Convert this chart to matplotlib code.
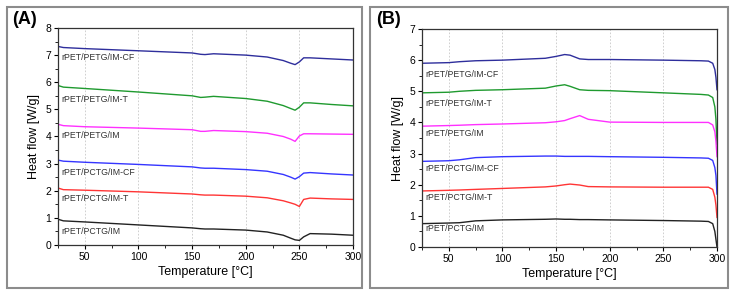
import matplotlib.pyplot as plt
from matplotlib.patches import Rectangle

plt.rcParams['font.family'] = ['Liberation Sans', 'DejaVu Sans']

names_a = ["rPET/PETG/IM-CF", "rPET/PETG/IM-T", "rPET/PETG/IM",
           "rPET/PCTG/IM-CF", "rPET/PCTG/IM-T", "rPET/PCTG/IM"]
colors = ["#2e2e9c", "#1f9a2f", "#ff30ff", "#3535ff", "#ff3535", "#222222"]

# panel A: heating curves
temp_a = [25, 30, 50, 100, 150, 158, 162, 170, 200, 220, 235, 242, 246, 250, 254, 260, 280, 300]
cf_a = [7.32, 7.28, 7.24, 7.16, 7.08, 7.03, 7.02, 7.05, 7.00, 6.93, 6.80, 6.70, 6.65, 6.75, 6.90, 6.90, 6.86, 6.82]
t_a = [5.88, 5.82, 5.77, 5.64, 5.50, 5.44, 5.45, 5.48, 5.40, 5.30, 5.14, 5.03, 4.97, 5.08, 5.24, 5.24, 5.18, 5.13]
im_a = [4.45, 4.40, 4.36, 4.31, 4.25, 4.19, 4.19, 4.22, 4.18, 4.12, 4.00, 3.90, 3.82, 4.02, 4.10, 4.10, 4.09, 4.08]
pcf_a = [3.13, 3.09, 3.05, 2.97, 2.88, 2.84, 2.83, 2.83, 2.78, 2.72, 2.60, 2.50, 2.43, 2.52, 2.65, 2.67, 2.62, 2.58]
pt_a = [2.10, 2.04, 2.02, 1.96, 1.88, 1.85, 1.84, 1.84, 1.80, 1.74, 1.63, 1.55, 1.50, 1.42, 1.68, 1.73, 1.70, 1.68]
pim_a = [0.95, 0.89, 0.85, 0.74, 0.63, 0.60, 0.59, 0.59, 0.55, 0.48, 0.36, 0.25, 0.19, 0.17, 0.30, 0.42, 0.40, 0.36]

# panel B: cooling curves
temp_b = [25, 50, 60, 75, 100, 140, 150, 158, 163, 172, 180, 200, 250, 285, 292, 296, 298, 299, 300]
cf_b = [5.90, 5.92, 5.95, 5.98, 6.00, 6.06, 6.12, 6.18, 6.16, 6.04, 6.02, 6.02, 6.00, 5.98, 5.97, 5.90, 5.70, 5.45, 5.05]
t_b = [4.95, 4.97, 5.00, 5.03, 5.05, 5.10, 5.17, 5.21, 5.16, 5.05, 5.03, 5.02, 4.95, 4.90, 4.88, 4.80, 4.50, 4.10, 3.30]
im_b = [3.88, 3.90, 3.91, 3.93, 3.95, 3.99, 4.02, 4.06, 4.12, 4.22, 4.10, 4.01, 4.00, 4.00, 4.00, 3.92, 3.70, 3.40, 2.90]
pcf_b = [2.75, 2.77, 2.80, 2.87, 2.90, 2.92, 2.92, 2.91, 2.91, 2.91, 2.91, 2.90, 2.88, 2.86, 2.85, 2.78, 2.55, 2.30, 1.70]
pt_b = [1.80, 1.82, 1.83, 1.85, 1.88, 1.93, 1.96, 2.00, 2.02, 1.99, 1.94, 1.93, 1.92, 1.92, 1.92, 1.85, 1.60, 1.35, 0.95]
pim_b = [0.75, 0.77, 0.78, 0.84, 0.87, 0.89, 0.90, 0.89, 0.89, 0.88, 0.88, 0.87, 0.85, 0.83, 0.82, 0.75, 0.50, 0.25, 0.0]

series_a = [cf_a, t_a, im_a, pcf_a, pt_a, pim_a]
series_b = [cf_b, t_b, im_b, pcf_b, pt_b, pim_b]
label_y_a = [6.93, 5.38, 4.05, 2.69, 1.73, 0.48]
label_y_b = [5.55, 4.62, 3.66, 2.53, 1.58, 0.58]

fig = plt.figure(figsize=(7.35, 2.95), dpi=100)

# panel frames
for x0, x1 in [(7, 362), (370, 728)]:
    fig.patches.append(Rectangle((x0 / 735, 1 - 288 / 295), (x1 - x0) / 735, 281 / 295,
                                 transform=fig.transFigure, fill=False,
                                 edgecolor="#8c8c8c", linewidth=1.5))

ax_a = fig.add_axes([0.0789, 0.1695, 0.4014, 0.7356])
ax_b = fig.add_axes([0.5741, 0.1627, 0.4014, 0.739])


def style(ax, ymax, temp, series, label_y):
    for vals, c in zip(series, colors):
        ax.plot(temp, vals, color=c, linewidth=1.0)
    for name, y in zip(names_a, label_y):
        ax.text(28, y, name, fontsize=6.3, color="#333333", va="center", ha="left")
    ax.set_xlim(25, 300)
    ax.set_ylim(0, ymax)
    ax.set_xticks([50, 100, 150, 200, 250, 300])
    ax.set_xticks([25, 75, 125, 175, 225, 275], minor=True)
    ax.set_yticks(range(0, ymax + 1))
    ax.set_yticks([i + 0.5 for i in range(ymax)], minor=True)
    ax.tick_params(labelsize=7.5, length=3, width=0.8, direction="out", pad=2)
    ax.tick_params(which="minor", length=2, width=0.6)
    for x in [50, 100, 150, 200, 250]:
        ax.axvline(x, color="#c8c8c8", linestyle=(0, (2, 2)), linewidth=0.6, zorder=0)
    for s in ax.spines.values():
        s.set_linewidth(0.9)
        s.set_color("#333333")
    ax.set_xlabel("Temperature [°C]", fontsize=9, labelpad=3)
    ax.set_ylabel("Heat flow [W/g]", fontsize=9, labelpad=4)


style(ax_a, 8, temp_a, series_a, label_y_a)
style(ax_b, 7, temp_b, series_b, label_y_b)

fig.text(12 / 735, 1 - 20 / 295, "(A)", fontsize=13, fontweight="bold", va="center")
fig.text(376 / 735, 1 - 20 / 295, "(B)", fontsize=13, fontweight="bold", va="center")

fig.savefig("out.png", dpi=100)
